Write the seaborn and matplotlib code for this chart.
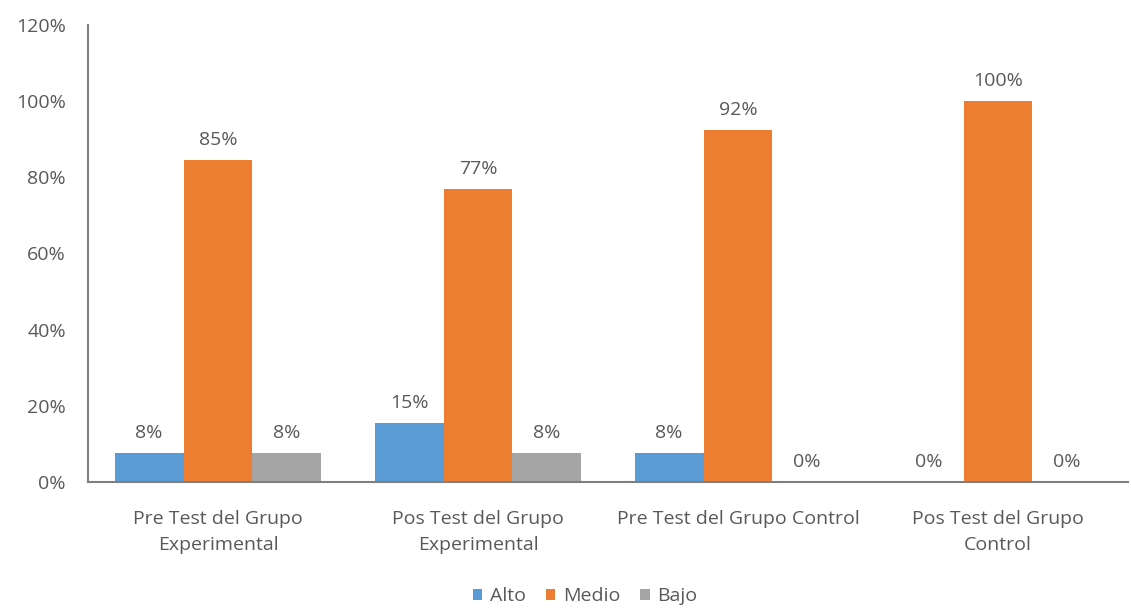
import matplotlib
matplotlib.use("Agg")
import matplotlib.pyplot as plt
import seaborn as sns
import pandas as pd
from matplotlib.ticker import PercentFormatter

categories = ["Pre Test del Grupo\nExperimental", "Pos Test del Grupo\nExperimental",
              "Pre Test del Grupo Control", "Pos Test del Grupo\nControl"]
series = ["Alto", "Medio", "Bajo"]
alto = [0.077, 0.154, 0.077, 0.0]
medio = [0.846, 0.769, 0.923, 1.0]
bajo = [0.077, 0.077, 0.0, 0.0]
colors = ["#5B9BD5", "#ED7D31", "#A5A5A5"]

rows = []
for s, vals in zip(series, [alto, medio, bajo]):
    for c, v in zip(categories, vals):
        rows.append({"cat": c, "serie": s, "val": v})
df = pd.DataFrame(rows)

sns.set_theme(style="white")
plt.rcParams['font.family'] = ['Open Sans', 'DejaVu Sans']
text_color = "#595959"
fs = 14

fig = plt.figure(figsize=(11.31, 6.08), dpi=100)
ax = fig.add_axes([88/1131, 1-482/608, (1128-88)/1131, (482-25)/608])
sns.barplot(data=df, x="cat", y="val", hue="serie", palette=colors,
            width=0.795, gap=0, saturation=1, ax=ax, legend=True, linewidth=0)

for cont in ax.containers:
    ax.bar_label(cont, labels=[f"{round(b.get_height()*100):.0f}%" for b in cont],
                 padding=8, fontsize=fs, color=text_color)

ax.set_ylim(0, 1.2)
ax.set_yticks([0, 0.2, 0.4, 0.6, 0.8, 1.0, 1.2])
ax.yaxis.set_major_formatter(PercentFormatter(1.0, decimals=0))
ax.set_xlim(-0.5, 3.5)
ax.set_xlabel("")
ax.set_ylabel("")
ax.tick_params(axis='both', colors=text_color, labelsize=fs, length=0)
ax.tick_params(axis='y', pad=16)
ax.tick_params(axis='x', pad=20)
for lbl in ax.get_xticklabels():
    lbl.set_linespacing(1.6)
for sp in ["top", "right"]:
    ax.spines[sp].set_visible(False)
for sp in ["left", "bottom"]:
    ax.spines[sp].set_color("#7F7F7F")
    ax.spines[sp].set_linewidth(1.5)
ax.grid(False)

handles, labels = ax.get_legend_handles_labels()
ax.legend_.remove()
fig.legend(handles, labels, loc="center", bbox_to_anchor=(585/1131, 1-596/608),
           ncol=3, frameon=False, fontsize=fs, handlelength=0.5, handleheight=0.5,
           handletextpad=0.4, columnspacing=1.0, labelcolor=text_color)

fig.savefig("out.png", dpi=100)
